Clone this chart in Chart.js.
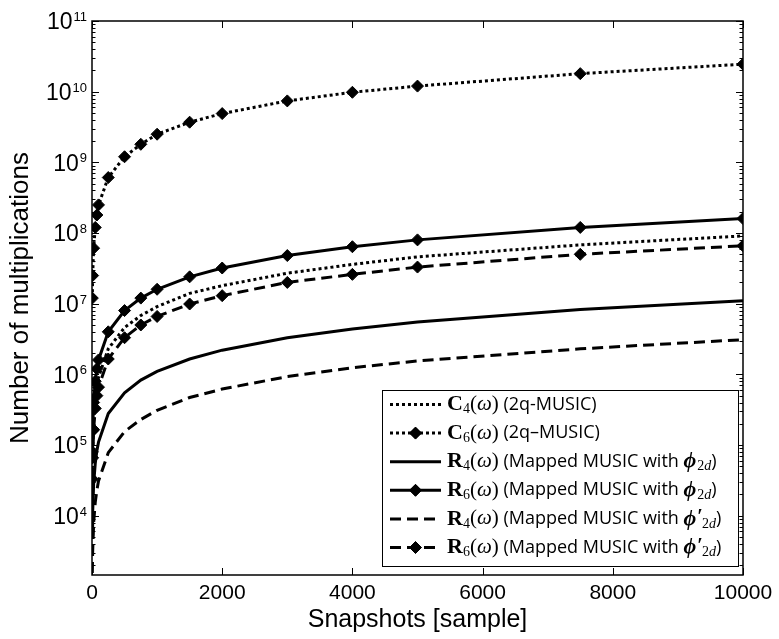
<!DOCTYPE html>
<html>
<head>
<meta charset="utf-8">
<script src="https://cdn.jsdelivr.net/npm/chart.js@4"></script>
<style>body{margin:0;background:#fff}</style>
</head>
<body>
<canvas id="chart" width="779" height="639"></canvas>
<script>
// snapshot counts (x) and multiplication counts per method
const snapshots = [5, 10, 25, 50, 75, 100, 250, 500, 750, 1000, 1500, 2000, 3000, 4000, 5000, 7500, 10000];
const c4 = [4.6e4, 9.1e4, 2.3e5, 4.6e5, 6.8e5, 9.1e5, 2.3e6, 4.6e6, 6.8e6, 9.1e6, 1.4e7, 1.8e7, 2.7e7, 3.6e7, 4.6e7, 6.8e7, 9.1e7];
const c6 = [1.2e7, 2.5e7, 6.1e7, 1.2e8, 1.8e8, 2.5e8, 6.1e8, 1.2e9, 1.8e9, 2.5e9, 3.7e9, 4.9e9, 7.4e9, 9.8e9, 1.2e10, 1.8e10, 2.45e10];
const r4 = [5.5e3, 1.1e4, 2.8e4, 5.5e4, 8.3e4, 1.1e5, 2.8e5, 5.5e5, 8.3e5, 1.1e6, 1.65e6, 2.2e6, 3.3e6, 4.4e6, 5.5e6, 8.3e6, 1.1e7];
const r6 = [8e4, 1.6e5, 4e5, 8e5, 1.2e6, 1.6e6, 4e6, 8e6, 1.2e7, 1.6e7, 2.4e7, 3.2e7, 4.8e7, 6.4e7, 8e7, 1.2e8, 1.6e8];
const r4p = [1.55e3, 3.1e3, 7.8e3, 1.55e4, 2.3e4, 3.1e4, 7.8e4, 1.55e5, 2.3e5, 3.1e5, 4.7e5, 6.2e5, 9.3e5, 1.24e6, 1.55e6, 2.3e6, 3.1e6];
const r6p = [3.3e4, 6.6e4, 1.65e5, 3.3e5, 5e5, 6.6e5, 1.65e6, 3.3e6, 5e6, 6.6e6, 9.9e6, 1.3e7, 2e7, 2.6e7, 3.3e7, 5e7, 6.6e7];

const DOT = [3, 3];
const DASH = [11, 6];

const SERIF = '"Liberation Serif"';
const SANS = '"Open Sans"';
// legend label pieces: [text, style]   b=bold serif, s=subscript, si=italic subscript, r=serif, i=italic serif, t=sans, bi=bold italic, p=prime
const legendLabels = [
  [['C','b'],['4','s'],['(','r'],['ω','i'],[')','r'],[' (2q-MUSIC)','t']],
  [['C','b'],['6','s'],['(','r'],['ω','i'],[')','r'],[' (2q–MUSIC)','t']],
  [['R','b'],['4','s'],['(','r'],['ω','i'],[')','r'],[' (Mapped MUSIC with ','t'],['ϕ','bi'],['2','s'],['d','si'],[')','t']],
  [['R','b'],['6','s'],['(','r'],['ω','i'],[')','r'],[' (Mapped MUSIC with ','t'],['ϕ','bi'],['2','s'],['d','si'],[')','t']],
  [['R','b'],['4','s'],['(','r'],['ω','i'],[')','r'],[' (Mapped MUSIC with ','t'],['ϕ','bi'],['′','p'],['2','s'],['d','si'],[')','t']],
  [['R','b'],['6','s'],['(','r'],['ω','i'],[')','r'],[' (Mapped MUSIC with ','t'],['ϕ','bi'],['′','p'],['2','s'],['d','si'],[')','t']]
];

function series(vals, dash, marker) {
  return {
    data: snapshots.map((s, i) => ({x: s, y: vals[i]})),
    borderColor: '#000',
    backgroundColor: '#000',
    borderWidth: 3,
    borderDash: dash,
    pointStyle: 'rectRot',
    pointRadius: marker ? 6 : 0,
    pointBorderWidth: 1,
    tension: 0
  };
}

const pieceFont = {
  b: 'bold 22px ' + SERIF,
  s: '14px ' + SERIF,
  si: 'italic 14px ' + SERIF,
  r: '21px ' + SERIF,
  i: 'italic 21px ' + SERIF,
  t: '18px ' + SANS,
  bi: 'bold italic 22px ' + SERIF,
  p: 'bold 20px ' + SERIF
};
const pieceDy = {s: 5, si: 5, p: -1};
const pieceGap = {bi: 1, p: -1};

const framePlugin = {
  id: 'frame',
  afterDraw(chart) {
    const {ctx, chartArea: a, scales: {x, y}} = chart;
    ctx.save();
    ctx.strokeStyle = '#000';
    ctx.fillStyle = '#000';
    // inward ticks
    ctx.lineWidth = 1;
    ctx.beginPath();
    x.ticks.forEach(t => {
      const px = Math.round(x.getPixelForValue(t.value)) + 0.5;
      ctx.moveTo(px, a.bottom); ctx.lineTo(px, a.bottom - 7);
      ctx.moveTo(px, a.top); ctx.lineTo(px, a.top + 7);
    });
    y.ticks.forEach(t => {
      const e = Math.floor(Math.log10(t.value) + 1e-9);
      const m = t.value / Math.pow(10, e);
      if (Math.abs(m - Math.round(m)) > 1e-6) return;
      const len = Math.abs(m - 1) < 1e-6 ? 7 : 3.5;
      const py = Math.round(y.getPixelForValue(t.value)) + 0.5;
      ctx.moveTo(a.left, py); ctx.lineTo(a.left + len, py);
      ctx.moveTo(a.right, py); ctx.lineTo(a.right - len, py);
    });
    ctx.stroke();
    ctx.lineWidth = 1.5;
    ctx.strokeRect(a.left, a.top, a.right - a.left, a.bottom - a.top);

    // y tick labels 10^n
    y.ticks.forEach(t => {
      const e = Math.round(Math.log10(t.value));
      if (Math.abs(Math.log10(t.value) - e) > 1e-6) return;
      const py = y.getPixelForValue(t.value);
      ctx.font = '13px "Liberation Sans"';
      const ew = ctx.measureText(String(e)).width;
      ctx.textAlign = 'left';
      ctx.textBaseline = 'alphabetic';
      const right = a.left - 5;
      ctx.fillText(String(e), right - ew, py);
      ctx.font = '23px "Liberation Sans"';
      ctx.textAlign = 'right';
      ctx.textBaseline = 'middle';
      ctx.fillText('10', right - ew - 1, py + 2);
    });

    // legend
    const box = {l: 382, t: 390, r: 738, b: 566};
    ctx.fillStyle = '#fff';
    ctx.fillRect(box.l, box.t, box.r - box.l, box.b - box.t);
    ctx.lineWidth = 1;
    ctx.strokeStyle = '#000';
    ctx.strokeRect(box.l + 0.5, box.t + 0.5, box.r - box.l, box.b - box.t);
    chart.data.datasets.forEach((ds, i) => {
      const cy = 404.5 + i * 28.6;
      ctx.save();
      ctx.lineWidth = ds.borderWidth;
      ctx.setLineDash(ds.borderDash || []);
      ctx.beginPath();
      ctx.moveTo(390, cy); ctx.lineTo(441, cy);
      ctx.stroke();
      ctx.restore();
      if (ds.pointRadius > 0) {
        ctx.fillStyle = '#000';
        Chart.helpers.drawPoint(ctx, {pointStyle: 'rectRot', radius: ds.pointRadius, borderWidth: 1}, 415.5, cy);
        ctx.fill();
      }
      let px = 447;
      ctx.fillStyle = '#000';
      ctx.textAlign = 'left';
      ctx.textBaseline = 'middle';
      legendLabels[i].forEach(([txt, st]) => {
        ctx.font = pieceFont[st];
        ctx.fillText(txt, px, cy + (pieceDy[st] || 0));
        px += ctx.measureText(txt).width + (pieceGap[st] || 0);
      });
    });
    ctx.restore();
  }
};

const config = {
  type: 'line',
  data: {
    datasets: [
      series(c4, DOT, false),
      series(c6, DOT, true),
      series(r4, [], false),
      series(r6, [], true),
      series(r4p, DASH, false),
      series(r6p, DASH, true)
    ]
  },
  options: {
    responsive: false,
    animation: false,
    layout: {padding: {top: 21, right: 36, left: 0, bottom: 0}},
    plugins: {legend: {display: false}, tooltip: {enabled: false}},
    scales: {
      x: {
        type: 'linear',
        min: 0,
        max: 10000,
        ticks: {stepSize: 2000, color: '#000', font: {family: 'Liberation Sans', size: 21}, padding: -2, maxRotation: 0,
          callback: v => String(v)},
        grid: {display: false},
        border: {display: false},
        title: {display: true, text: 'Snapshots [sample]', color: '#000', font: {family: 'Liberation Sans', size: 25}, padding: {top: 0, bottom: 4}},
        afterFit(scale) { scale.height = 64; }
      },
      y: {
        type: 'logarithmic',
        min: 1450,
        max: 1e11,
        ticks: {display: false},
        grid: {display: false},
        border: {display: false},
        title: {display: true, text: 'Number of multiplications', color: '#000', font: {family: 'Liberation Sans', size: 26}, padding: {top: 5, bottom: 0}},
        afterFit(scale) { scale.width = 92; }
      }
    }
  },
  plugins: [framePlugin]
};

const chart = new Chart(document.getElementById('chart'), config);
</script>
</body>
</html>
